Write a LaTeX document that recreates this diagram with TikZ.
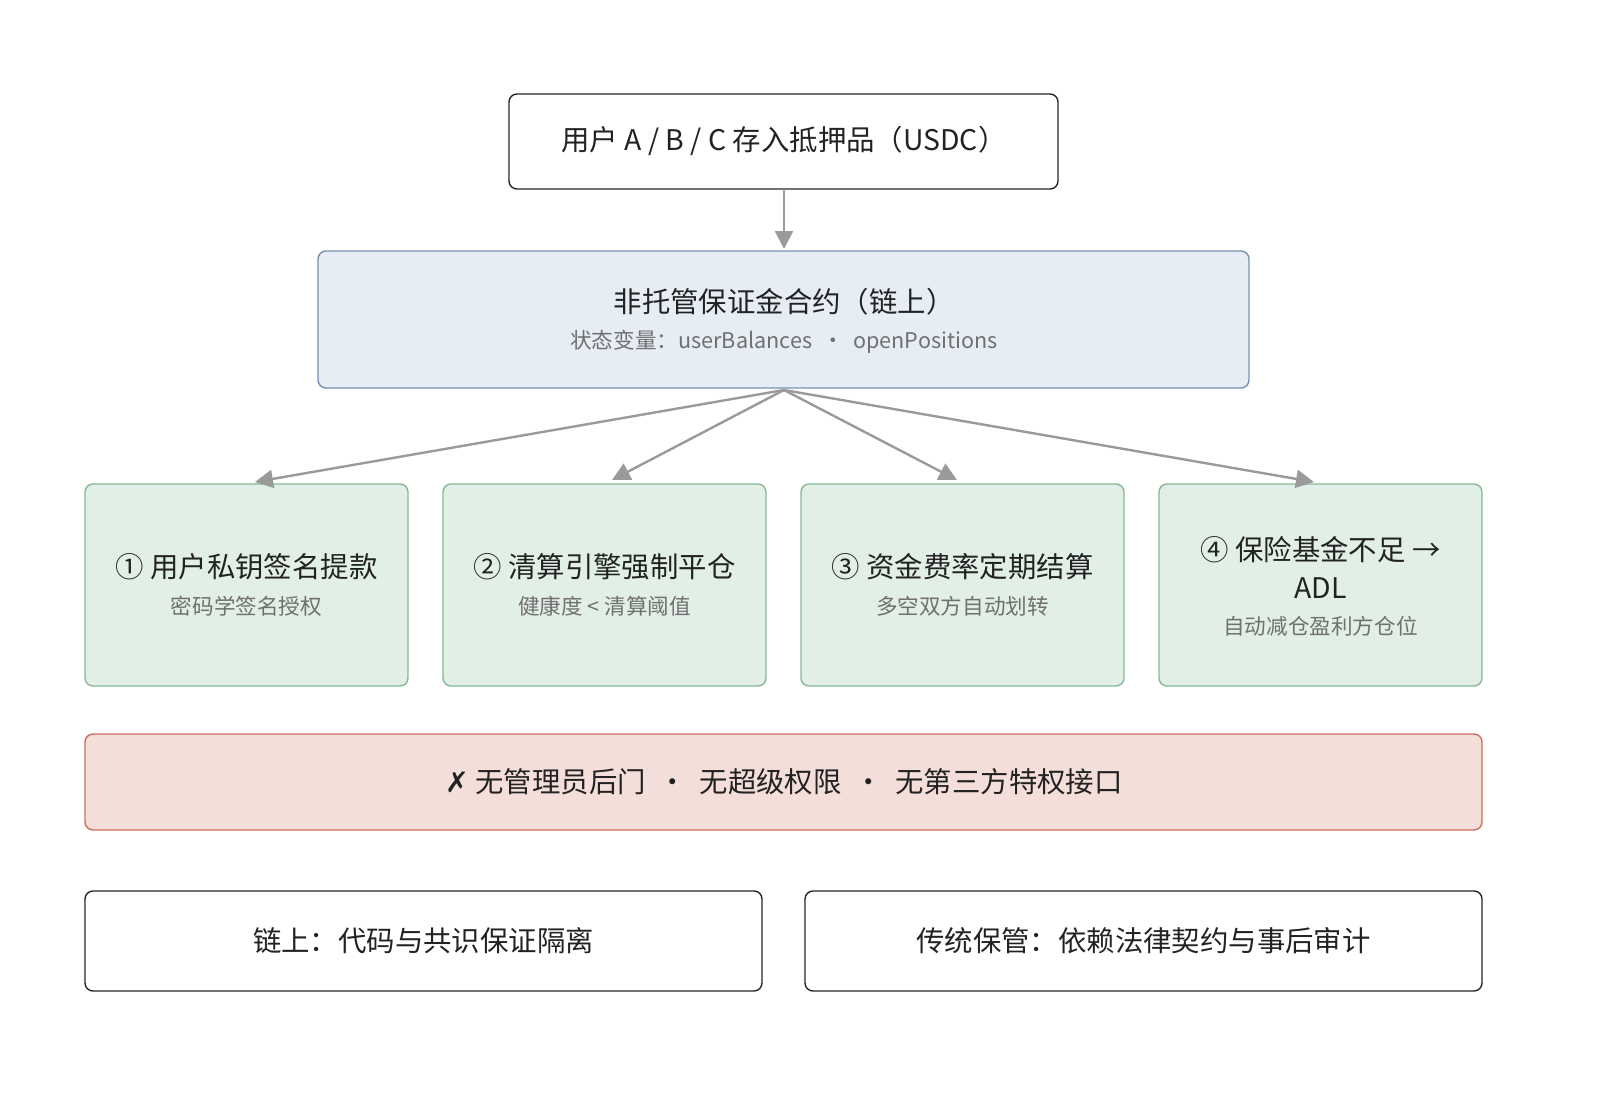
\documentclass[tikz,border=0pt]{standalone}
\usepackage{fontspec}
\setmainfont{Noto Sans CJK SC}
\newfontfamily\dejavu{DejaVu Sans}
\usetikzlibrary{arrows.meta}
\definecolor{blfill}{HTML}{E6EDF5}\definecolor{bldraw}{HTML}{7590B5}
\definecolor{grfill}{HTML}{E2EFE6}\definecolor{grdraw}{HTML}{86B896}
\definecolor{rdfill}{HTML}{F4DEDA}\definecolor{rddraw}{HTML}{CC6E5E}
\definecolor{arr}{HTML}{9A9A9A}\definecolor{sub}{HTML}{707070}\definecolor{txt}{HTML}{222222}
\begin{document}
\begin{tikzpicture}[x=0.5pt,y=-0.5pt,
 box/.style={rounded corners=4pt,line width=0.7pt},
 main/.style={font=\fontsize{14.2}{19}\selectfont,text=txt},
 subt/.style={font=\fontsize{10.8}{13}\selectfont,text=sub},
 conn/.style={draw=arr,line width=1.2pt,-{Triangle[length=9pt,width=9pt]}}]
\useasboundingbox (0,0) rectangle (1600,1103);
\draw[box,draw=black!85] (509,94) rectangle (1058,189);
\node[main] (top) at (784,141) {用户 A / B / C 存入抵押品（USDC）};
\coordinate (tb) at (784,189);
\draw[box,fill=blfill,draw=bldraw] (318,251) rectangle (1249,388);
\coordinate (ct) at (784,249);
\coordinate (cb) at (784,390);
\node[main] (ctr) at (784,302) {非托管保证金合约（链上）};
\node[subt] (ctrs) at (784,342) {状态变量：userBalances \ · \ openPositions};
\draw[conn] (tb) -- (ct);
\foreach \x/\n in {85/a,443/b,801/c,1159/d}{
 \draw[box,fill=grfill,draw=grdraw] (\x,484) rectangle ++(323,202);
 \coordinate (\n) at (\x+161.5,482);}
\node[main] (t1) at (246.5,567) {① 用户私钥签名提款};
\node[subt] (s1) at (246.5,606) {密码学签名授权};
\node[main] (t2) at (604.5,567) {② 清算引擎强制平仓};
\node[subt] (s2) at (604.5,606) {健康度 < 清算阈值};
\node[main] (t3) at (962.5,567) {③ 资金费率定期结算};
\node[subt] (s3) at (962.5,606) {多空双方自动划转};
\node[main,align=center] (t4) at (1320.5,567) {④ 保险基金不足 →\\ADL};
\node[subt] (s4) at (1320.5,626) {自动减仓盈利方仓位};
\draw[conn] (cb) -- (255,482);
\draw[conn] (cb) -- (612,480);
\draw[conn] (cb) -- (957,480);
\draw[conn] (cb) -- (1314,482);
\draw[box,fill=rdfill,draw=rddraw] (85,734) rectangle (1482,830);
\node[main] (red) at (784,782) {{\dejavu ✗} 无管理员后门 \ · \ 无超级权限 \ · \ 无第三方特权接口};
\draw[box,draw=black!85] (85,891) rectangle (762,991);
\node[main] (l) at (423.5,941) {链上：代码与共识保证隔离};
\draw[box,draw=black!85] (805,891) rectangle (1482,991);
\node[main] (r) at (1143.5,941) {传统保管：依赖法律契约与事后审计};
\end{tikzpicture}
\end{document}
